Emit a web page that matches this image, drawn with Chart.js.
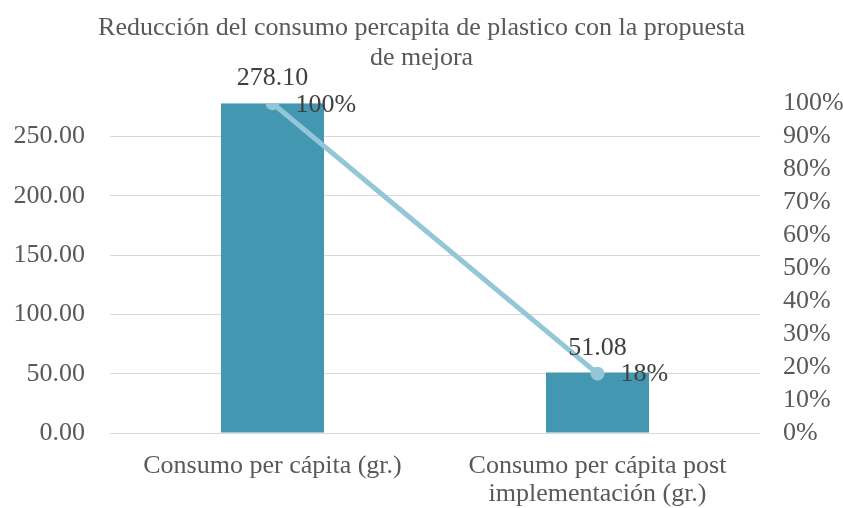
<!DOCTYPE html>
<html>
<head>
<meta charset="utf-8">
<script src="https://cdn.jsdelivr.net/npm/chart.js"></script>
<style>
  html, body { margin: 0; padding: 0; background: #fff; }
  #wrap { width: 843px; height: 508px; }
</style>
</head>
<body>
<div id="wrap"><canvas id="chart" width="843" height="508"></canvas></div>
<script>
// consumo per cápita (gr.) antes y después de la propuesta
var categorias = ['Consumo per cápita (gr.)', ['Consumo per cápita post', 'implementación (gr.)']];
var consumo = [278.10, 51.08];
var porcentaje = [1.00, 0.18];
var ticksIzq = [0, 50, 100, 150, 200, 250];

var FONT = "'Liberation Serif', 'Times New Roman', serif";
var TAM = 26;
var GRIS = '#595959';
var BARRA = '#4397b0';
var LINEA = '#93c6d9';

// etiquetas de valor sobre barras y puntos
var etiquetas = {
  id: 'etiquetas',
  afterDatasetsDraw: function (chart) {
    var ctx = chart.ctx;
    ctx.save();
    ctx.font = TAM + 'px ' + FONT;
    ctx.fillStyle = '#404040';
    ctx.textBaseline = 'middle';
    chart.getDatasetMeta(0).data.forEach(function (bar, i) {
      ctx.textAlign = 'center';
      ctx.fillText(consumo[i].toFixed(2), bar.x, bar.y - 25);
    });
    chart.getDatasetMeta(1).data.forEach(function (pt, i) {
      ctx.textAlign = 'left';
      ctx.fillText(Math.round(porcentaje[i] * 100) + '%', pt.x + 23, pt.y + 2);
    });
    ctx.restore();
  }
};

new Chart(document.getElementById('chart'), {
  data: {
    labels: categorias,
    datasets: [
      {
        type: 'line',
        data: porcentaje,
        yAxisID: 'y1',
        borderColor: LINEA,
        backgroundColor: LINEA,
        borderWidth: 5,
        pointRadius: 7,
        pointHoverRadius: 7,
        pointBorderWidth: 0,
        order: 0
      },
      {
        type: 'bar',
        data: consumo,
        yAxisID: 'y',
        backgroundColor: BARRA,
        barPercentage: 0.317,
        categoryPercentage: 1,
        order: 1
      }
    ]
  },
  options: {
    responsive: false,
    animation: false,
    layout: { padding: 0 },
    plugins: {
      legend: { display: false },
      tooltip: { enabled: false },
      title: {
        display: true,
        text: ['Reducción del consumo percapita de plastico con la propuesta', 'de mejora'],
        color: GRIS,
        font: { family: FONT, size: TAM, weight: 'normal', lineHeight: 1.12 },
        padding: { top: 14, bottom: 31 }
      }
    },
    scales: {
      x: {
        afterFit: function (axis) { axis.height = 75; },
        grid: { display: false, drawTicks: false },
        border: { display: false },
        ticks: {
          color: GRIS,
          padding: 19,
          maxRotation: 0,
          font: { family: FONT, size: TAM, lineHeight: 1.08 }
        }
      },
      y: {
        position: 'left',
        min: 0,
        max: consumo[0],
        afterBuildTicks: function (axis) {
          axis.ticks = ticksIzq.map(function (v) { return { value: v }; });
        },
        afterFit: function (axis) { axis.width = 110; },
        grid: { color: '#d9d9d9', lineWidth: 1, drawTicks: false },
        border: { display: false },
        ticks: {
          color: GRIS,
          padding: 25,
          font: { family: FONT, size: TAM },
          callback: function (v) { return v.toFixed(2); }
        }
      },
      y1: {
        position: 'right',
        min: 0,
        max: 1,
        afterFit: function (axis) { axis.width = 83; },
        grid: { display: false, drawTicks: false },
        border: { display: false },
        ticks: {
          color: GRIS,
          padding: 23,
          stepSize: 0.1,
          autoSkip: false,
          font: { family: FONT, size: TAM },
          callback: function (v) { return Math.round(v * 100) + '%'; }
        }
      }
    }
  },
  plugins: [etiquetas]
});
</script>
</body>
</html>
